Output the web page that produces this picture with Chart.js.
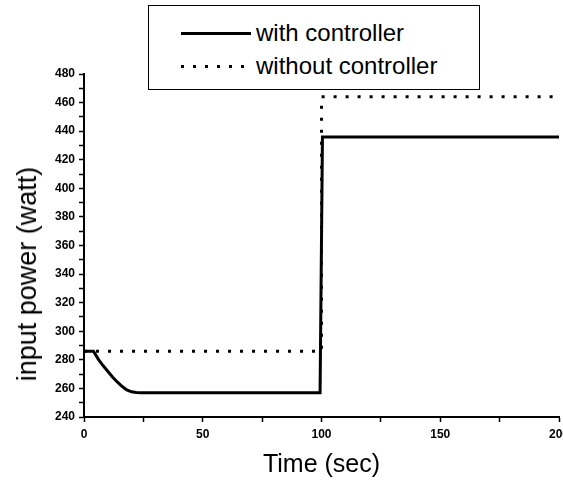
<!DOCTYPE html>
<html>
<head>
<meta charset="utf-8">
<script src="https://cdn.jsdelivr.net/npm/chart.js@4/dist/chart.umd.min.js"></script>
<style>
  body { margin: 0; background: #fff; }
  #wrap { position: relative; width: 563px; height: 483px; }
  #legend {
    position: absolute; left: 148px; top: 5px; width: 330px; height: 83px;
    border: 1.5px solid #000; background: #fff;
    font-family: "Liberation Sans", Arial, sans-serif; font-size: 24px; color: #000;
  }
  .row { position: absolute; left: 32px; height: 30px; display: flex; align-items: center; }
  .sample { width: 70px; height: 3px; margin-right: 5px; }
  #ytitle {
    position: absolute; left: 27px; top: 274px; white-space: nowrap;
    font-family: "Liberation Sans", Arial, sans-serif; font-size: 27px; line-height: 32px; color: #000;
    transform: translate(-50%, -50%) rotate(-90deg);
  }
</style>
</head>
<body>
<div id="wrap">
  <canvas id="myChart"></canvas>
  <div id="legend"></div>
  <div id="ytitle">input power (watt)</div>
</div>
<script>
// series data (time in sec, input power in watt)
var seriesNames = ['with controller', 'without controller'];
var timeWith = [0, 4, 6, 8, 10, 12, 14, 16, 18, 20, 22, 24, 99.4, 100.4, 200];
var powerWith = [286, 286, 280.5, 276, 272, 268, 264.5, 261.5, 259, 257.6, 257.1, 257, 257, 436, 436];
var timeWithout = [0, 100, 100, 200];
var powerWithout = [286, 286, 464, 464];

// labelled ticks
var xTickLabels = [0, 50, 100, 150, 200];
var yTickLabels = [240, 260, 280, 300, 320, 340, 360, 380, 400, 420, 440, 460, 480];

function toPoints(xs, ys) {
    return xs.map(function (x, i) { return { x: x, y: ys[i] }; });
}

var tickFont = { family: 'Liberation Sans', size: 12, weight: 'bold' };
var titleFont = { family: 'Liberation Sans', size: 25 };

var ctx = document.getElementById('myChart').getContext('2d');
var chart = new Chart(ctx, {
    type: 'line',
    data: {
        datasets: [{
            label: seriesNames[0],
            data: toPoints(timeWith, powerWith),
            borderColor: '#000',
            borderWidth: 3,
            pointRadius: 0,
            tension: 0
        }, {
            label: seriesNames[1],
            data: toPoints(timeWithout, powerWithout),
            borderColor: '#000',
            borderWidth: 3,
            borderDash: [3, 9],
            borderCapStyle: 'butt',
            pointRadius: 0,
            tension: 0
        }]
    },
    options: {
        responsive: true,
        maintainAspectRatio: false,
        animation: false,
        devicePixelRatio: 1,
        layout: { padding: { left: 4, right: 4, top: 74, bottom: 0 } },
        plugins: { legend: { display: false }, tooltip: { enabled: false } },
        scales: {
            x: {
                type: 'linear',
                min: 0, max: 200,
                border: { display: true, color: '#000', width: 2 },
                grid: { display: true, drawOnChartArea: false, drawTicks: true, tickLength: 5, tickColor: '#000', tickWidth: 1.5 },
                ticks: {
                    stepSize: 25, autoSkip: false, maxRotation: 0, padding: 5,
                    color: '#000', font: tickFont,
                    callback: function (v) { return xTickLabels.indexOf(v) >= 0 ? String(v) : ''; }
                },
                title: { display: true, text: 'Time (sec)', color: '#000', font: titleFont, padding: { top: 2, bottom: 3 } },
                afterFit: function (scale) { scale.paddingRight = 0; scale.height = 66; }
            },
            y: {
                type: 'linear',
                min: 240, max: 480,
                border: { display: true, color: '#000', width: 2 },
                grid: { display: true, drawOnChartArea: false, drawTicks: true, tickLength: 5, tickColor: '#000', tickWidth: 1.5 },
                ticks: {
                    stepSize: 10, autoSkip: false, padding: 4,
                    color: '#000', font: tickFont,
                    callback: function (v) { return yTickLabels.indexOf(v) >= 0 ? String(v) : ''; }
                },
                title: { display: false },
                afterFit: function (scale) { scale.width = 80; }
            }
        }
    }
});

// HTML legend built from the datasets
var legend = document.getElementById('legend');
chart.data.datasets.forEach(function (ds, i) {
    var row = document.createElement('div');
    row.className = 'row';
    row.style.top = (12 + i * 33) + 'px';
    var sample = document.createElement('span');
    sample.className = 'sample';
    if (ds.borderDash) {
        sample.style.background = 'repeating-linear-gradient(90deg, #000 0 3px, transparent 3px 12px)';
    } else {
        sample.style.background = '#000';
    }
    var txt = document.createElement('span');
    txt.textContent = ds.label;
    row.appendChild(sample);
    row.appendChild(txt);
    legend.appendChild(row);
});
</script>
</body>
</html>
